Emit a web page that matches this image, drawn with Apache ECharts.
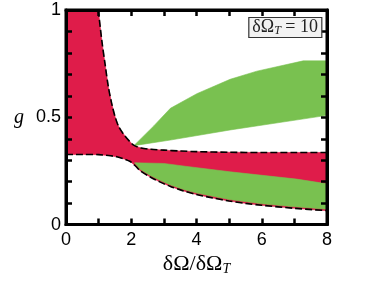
<!DOCTYPE html>
<html>
<head>
<meta charset="utf-8">
<script src="https://cdn.jsdelivr.net/npm/echarts@6/dist/echarts.min.js"></script>
<style>html,body{margin:0;padding:0;background:#fff}#c{width:369px;height:281px}</style>
</head>
<body>
<div id="c"></div>
<script>
// Red band: upper boundary
const redTopX = [0, 0.99, 1.1, 1.2, 1.3, 1.4, 1.5, 1.62, 1.82, 2.02, 2.1, 2.3, 2.6, 3, 3.5, 4, 5, 6, 7, 8];
const redTopY = [1, 1, 0.855, 0.745, 0.64, 0.565, 0.505, 0.455, 0.41, 0.377, 0.368, 0.357, 0.351, 0.347, 0.343, 0.34, 0.337, 0.336, 0.336, 0.336];
// Red band: lower boundary
const redLowX = [0, 0.5, 1, 1.3, 1.56, 1.8, 1.97, 2.13, 2.28, 2.58, 2.89, 3.2, 3.6, 4, 4.5, 5, 5.5, 6, 7, 8];
const redLowY = [0.327, 0.327, 0.326, 0.322, 0.316, 0.305, 0.294, 0.273, 0.25, 0.222, 0.198, 0.178, 0.157, 0.14, 0.124, 0.11, 0.099, 0.09, 0.076, 0.065];
// Upper green region
const gATopX = [2.08, 2.69, 3.2, 4.01, 5.03, 5.85, 7.27, 8];
const gATopY = [0.368, 0.46, 0.542, 0.61, 0.677, 0.715, 0.763, 0.763];
const gABotX = [2.08, 3.2, 5.03, 8];
const gABotY = [0.368, 0.394, 0.441, 0.509];
// Lower green region
const gBTopX = [2.1, 3, 3.65, 5.03, 7.07, 8];
const gBTopY = [0.288, 0.285, 0.272, 0.246, 0.212, 0.19];
const gBBotX = [2.1, 2.28, 2.58, 2.89, 3.2, 3.6, 4, 5, 6, 7, 8];
const gBBotY = [0.288, 0.257, 0.229, 0.205, 0.185, 0.164, 0.147, 0.117, 0.097, 0.083, 0.072];
// Tick labels
const xTicks = [0, 2, 4, 6, 8];
const yTicks = [0, 0.5, 1];

const RED = '#df1c4a', GREEN = '#79c150';

function pts(xs, ys) { return xs.map((x, i) => [x, ys[i]]); }
function band(topX, topY, botX, botY) {
  return pts(topX, topY).concat(pts(botX, botY).reverse());
}
function polySeries(poly, color) {
  return {
    type: 'custom', clip: true, silent: true, z: -2,
    data: [poly[0]],
    renderItem: function (params, api) {
      return {
        type: 'polygon',
        shape: { points: poly.map(p => api.coord(p)) },
        style: { fill: color, stroke: color, lineWidth: 0.6 }
      };
    }
  };
}
function dashed(data) {
  return {
    type: 'line', data: data, showSymbol: false, smooth: 0.3, silent: true, z: -1,
    lineStyle: { color: '#000', width: 1.6, type: [7, 3] }
  };
}
function xAx(pos, showLabel) {
  return {
    type: 'value', min: xTicks[0], max: xTicks[xTicks.length - 1], interval: xTicks[1] - xTicks[0], position: pos,
    axisLine: { show: true, onZero: false, lineStyle: { color: '#000', width: 3 } },
    axisTick: { show: true, inside: true, length: 6, lineStyle: { color: '#000', width: 2.5 } },
    minorTick: { show: true, splitNumber: 2, length: 6, lineStyle: { color: '#000', width: 2.5 } },
    splitLine: { show: false },
    axisLabel: { show: showLabel, margin: 6, color: '#000', fontSize: 18, fontFamily: 'Liberation Sans' }
  };
}
function yAx(pos, showLabel) {
  return {
    type: 'value', min: yTicks[0], max: yTicks[yTicks.length - 1], interval: yTicks[1] - yTicks[0], position: pos,
    axisLine: { show: true, onZero: false, lineStyle: { color: '#000', width: 3 } },
    axisTick: { show: true, inside: true, length: 6, lineStyle: { color: '#000', width: 2.5 } },
    minorTick: { show: true, splitNumber: 5, length: 6, lineStyle: { color: '#000', width: 2.5 } },
    splitLine: { show: false },
    axisLabel: { show: showLabel, margin: 5, color: '#000', fontSize: 18, fontFamily: 'Liberation Sans' }
  };
}

const xMain = xAx('bottom', true);
xMain.name = '{a|δΩ/δΩ}{s|T}';
xMain.nameLocation = 'middle';
xMain.nameGap = 21;
xMain.nameTextStyle = {
  rich: {
    a: { fontFamily: 'Liberation Serif', fontSize: 22, color: '#000' },
    s: { fontFamily: 'Liberation Serif', fontStyle: 'italic', fontSize: 14, color: '#000', verticalAlign: 'bottom', padding: [9, 0, 0, 0] }
  }
};
const yMain = yAx('left', true);
yMain.name = 'g';
yMain.nameLocation = 'middle';
yMain.nameRotate = 0;
yMain.nameGap = 42;
yMain.nameTextStyle = { fontFamily: 'Liberation Serif', fontStyle: 'italic', fontSize: 20, color: '#000' };

const chart = echarts.init(document.getElementById('c'));
chart.setOption({
  animation: false,
  grid: { left: 66, right: 42, top: 10, bottom: 49, show: true, borderColor: '#000', borderWidth: 3, backgroundColor: 'transparent' },
  title: {
    text: '{a|δΩ}{s|T}{a| = 10}',
    right: 47, top: 17,
    backgroundColor: '#f2f2f2', borderColor: '#333', borderWidth: 1.2,
    padding: [1, 4, 1, 4],
    textStyle: {
      fontWeight: 'normal',
      rich: {
        a: { fontFamily: 'Liberation Serif', fontWeight: 'normal', fontSize: 18, color: '#222' },
        s: { fontFamily: 'Liberation Serif', fontWeight: 'normal', fontStyle: 'italic', fontSize: 12, color: '#222', verticalAlign: 'bottom', padding: [7, 0, 0, 0] }
      }
    }
  },
  xAxis: [xMain, xAx('top', false)],
  yAxis: [yMain, yAx('right', false)],
  series: [
    polySeries(band(redTopX, redTopY, redLowX, redLowY), RED),
    polySeries(band(gATopX, gATopY, gABotX, gABotY), GREEN),
    polySeries(band(gBTopX, gBTopY, gBBotX, gBBotY), GREEN),
    dashed(pts(redTopX.slice(1), redTopY.slice(1))),
    dashed(pts(redLowX, redLowY))
  ]
});
</script>
</body>
</html>
